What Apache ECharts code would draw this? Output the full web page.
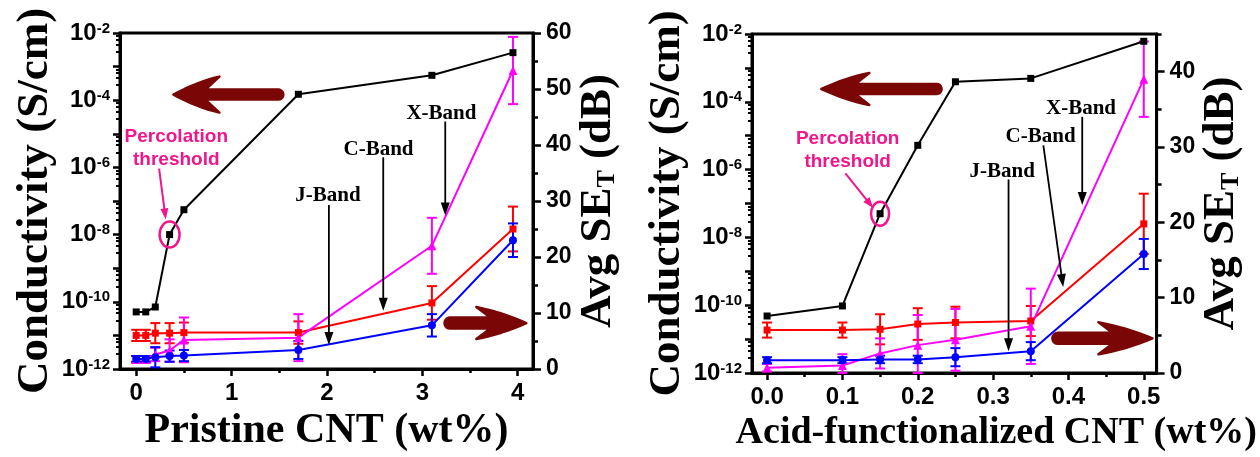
<!DOCTYPE html>
<html>
<head>
<meta charset="utf-8">
<script src="https://cdn.jsdelivr.net/npm/echarts@6/dist/echarts.min.js"></script>
<style>
  html, body { margin: 0; padding: 0; background: #fff; }
  #chart { width: 1260px; height: 457px; }
</style>
</head>
<body>
<div id="chart"></div>
<script>
// ---- Pristine CNT composites ----
const pristineWt = [0, 0.1, 0.2, 0.35, 0.5, 1.7, 3.1, 3.95];
const pristineCond = [5e-11, 5e-11, 7e-11, 1e-8, 5.5e-8, 1.5e-4, 5.5e-4, 2.6e-3];
const pristineC = [6.0, 6.0, 6.4, 6.4, 6.5, 6.5, 11.8, 25.0];
const pristineCErr = [1.0, 1.0, 1.8, 1.8, 1.8, 2.0, 3.0, 4.0];
const pristineX = [1.7, 1.7, 2.6, 3.3, 5.2, 5.6, 22.0, 53.3];
const pristineXErr = [0.6, 0.6, 1.2, 2.0, 4.0, 4.2, 5.0, 6.0];
const pristineJ = [1.8, 1.8, 2.1, 2.3, 2.4, 3.4, 7.8, 23.0];
const pristineJErr = [0.5, 0.5, 1.8, 1.0, 1.0, 1.6, 2.0, 3.0];

// ---- Acid-functionalized CNT composites ----
const acidWt = [0, 0.1, 0.15, 0.2, 0.25, 0.35, 0.5];
const acidCond = [4.8e-11, 9.5e-11, 5e-8, 5.2e-6, 3.9e-4, 4.9e-4, 6.1e-3];
const acidC = [5.7, 5.7, 5.8, 6.5, 6.7, 6.9, 19.8];
const acidCErr = [1.0, 1.0, 2.0, 2.1, 2.1, 2.0, 4.0];
const acidX = [0.7, 1.0, 2.6, 3.7, 4.4, 6.2, 39.0];
const acidXErr = [0.5, 1.5, 2.0, 4.0, 4.1, 5.0, 5.0];
const acidJ = [1.7, 1.7, 1.8, 1.8, 2.1, 2.9, 15.8];
const acidJErr = [0.4, 0.4, 0.5, 0.5, 1.2, 1.2, 2.0];

// ---- Tick values ----
const pristineTicks = [0, 1, 2, 3, 4];
const pristineMinorTicks = [0.5, 1.5, 2.5, 3.5];
const acidTicks = [0, 0.1, 0.2, 0.3, 0.4, 0.5];
const acidMinorTicks = [0.05, 0.15, 0.25, 0.35, 0.45];
const sePristineTicks = [0, 10, 20, 30, 40, 50, 60];
const sePristineMinorTicks = [5, 15, 25, 35, 45, 55];
const seAcidTicks = [0, 10, 20, 30, 40];
const seAcidMinorTicks = [5, 15, 25, 35, 45];

const SANS = '"Liberation Sans", Arial, sans-serif';
const SERIF = '"Liberation Serif", "Times New Roman", serif';
const MAROON = '#7a0606';
const PINK = '#f0168c';
const RED = '#ff0000', MAGENTA = '#ff00ff', BLUE = '#0000ff';

const chart = echarts.init(document.getElementById('chart'));

function logLabel(v) {
  const e = Math.round(Math.log10(v));
  return e % 2 === 0 ? '{b|10}{s|' + e + '}' : '';
}

const tickLabelStyle = { fontFamily: SANS, fontWeight: 'bold', fontSize: 23, color: '#000' };
const axisNameStyle = (size) => ({ fontFamily: SERIF, fontWeight: 'bold', fontSize: size, color: '#000' });

function xAxesFor(gridIndex, min, max, major, minor, fmt, name, nameSize, namePad) {
  return [
    {
      type: 'value', gridIndex, min, max, position: 'bottom',
      axisLine: { show: true, onZero: false, lineStyle: { color: '#000', width: 3 } },
      axisTick: { show: true, length: 7, lineStyle: { color: '#000', width: 2.5 }, customValues: major },
      axisLabel: Object.assign({ margin: 12, customValues: major, formatter: fmt }, tickLabelStyle, { fontSize: 24 }),
      splitLine: { show: false },
      name, nameLocation: 'middle', nameGap: 41,
      nameTextStyle: Object.assign(axisNameStyle(nameSize), { padding: namePad })
    },
    {
      type: 'value', gridIndex, min, max, position: 'bottom',
      axisLine: { show: false, onZero: false },
      axisTick: { show: true, length: 4, lineStyle: { color: '#000', width: 2.5 }, customValues: minor },
      axisLabel: { show: false },
      splitLine: { show: false }
    }
  ];
}

function yAxesFor(gridIndex, seMax, seMajor, seMinor) {
  return [
    {
      type: 'log', gridIndex, logBase: 10, min: 1e-12, max: 1e-2, interval: 1, splitNumber: 10,
      position: 'left',
      axisLine: { show: true, onZero: false, lineStyle: { color: '#000', width: 3 } },
      axisTick: { show: true, length: 7, lineStyle: { color: '#000', width: 2.5 } },
      minorTick: { show: true, splitNumber: 5, length: 4, lineStyle: { color: '#000', width: 2 } },
      axisLabel: {
        margin: 10, formatter: logLabel,
        rich: {
          b: { fontFamily: SANS, fontWeight: 'bold', fontSize: 24, color: '#000' },
          s: { fontFamily: SANS, fontWeight: 'bold', fontSize: 15, color: '#000', verticalAlign: 'top' }
        }
      },
      splitLine: { show: false }, minorSplitLine: { show: false },
      name: 'Conductivity (S/cm)', nameLocation: 'middle', nameRotate: 90, nameGap: 62,
      nameTextStyle: axisNameStyle(45)
    },
    {
      type: 'value', gridIndex, min: 0, max: seMax, position: 'right',
      axisLine: { show: true, onZero: false, lineStyle: { color: '#000', width: 3 } },
      axisTick: { show: true, length: 8, lineStyle: { color: '#000', width: 2.5 }, customValues: seMajor },
      axisLabel: Object.assign({ margin: 13, customValues: seMajor }, tickLabelStyle),
      splitLine: { show: false },
      name: 'Avg SE{t|T} (dB)', nameLocation: 'middle', nameRotate: 90, nameGap: 38,
      nameTextStyle: Object.assign(axisNameStyle(45), {
        rich: { t: { fontFamily: SERIF, fontWeight: 'bold', fontSize: 26, color: '#000', verticalAlign: 'bottom' } }
      })
    },
    {
      type: 'value', gridIndex, min: 0, max: seMax, position: 'right',
      axisLine: { show: false, onZero: false },
      axisTick: { show: true, length: 5, lineStyle: { color: '#000', width: 2.5 }, customValues: seMinor },
      axisLabel: { show: false },
      splitLine: { show: false }
    }
  ];
}

function errorBarItem(params, api) {
  const x = api.value(0), y = api.value(1), e = api.value(2);
  const hi = api.coord([x, y + e]);
  const lo = api.coord([x, Math.max(0, y - e)]);
  const cap = 5;
  const st = { stroke: api.visual('color'), lineWidth: 2 };
  return {
    type: 'group',
    children: [
      { type: 'line', shape: { x1: hi[0], y1: hi[1], x2: lo[0], y2: lo[1] }, style: st },
      { type: 'line', shape: { x1: hi[0] - cap, y1: hi[1], x2: hi[0] + cap, y2: hi[1] }, style: st },
      { type: 'line', shape: { x1: lo[0] - cap, y1: lo[1], x2: lo[0] + cap, y2: lo[1] }, style: st }
    ]
  };
}

function panelSeries(xs, cond, c, cErr, xb, xbErr, j, jErr, xAxisIndex, logIdx, seIdx) {
  const zip = (v, e) => xs.map((x, i) => [x, v[i], e[i]]);
  const pts = (v) => xs.map((x, i) => [x, v[i]]);
  const bars = (name, v, e, color) => ({
    type: 'custom', name, xAxisIndex, yAxisIndex: seIdx, data: zip(v, e),
    itemStyle: { color }, renderItem: errorBarItem, z: 2
  });
  const line = (name, v, color, symbol, size, yIdx) => ({
    type: 'line', name, xAxisIndex, yAxisIndex: yIdx, data: pts(v),
    symbol, symbolSize: size, showSymbol: true,
    itemStyle: { color }, lineStyle: { color, width: 2 }, z: 3
  });
  return [
    bars('C-Band err', c, cErr, RED),
    bars('X-Band err', xb, xbErr, MAGENTA),
    bars('J-Band err', j, jErr, BLUE),
    line('C-Band', c, RED, 'rect', 7, seIdx),
    line('X-Band', xb, MAGENTA, 'triangle', 9, seIdx),
    line('J-Band', j, BLUE, 'circle', 8, seIdx),
    line('Conductivity', cond, '#000', 'rect', 7, logIdx)
  ];
}

const option = {
  animation: false,
  backgroundColor: '#fff',
  grid: [
    { left: 120, top: 33, width: 413, height: 344, show: true, borderColor: '#000', borderWidth: 3 },
    { left: 752, top: 34, width: 418, height: 343, show: true, borderColor: '#000', borderWidth: 3 }
  ],
  xAxis: [
    ...xAxesFor(0, -0.17, 4.16, pristineTicks, pristineMinorTicks, (v) => String(Math.round(v)),
      'Pristine CNT (wt%)', 42, [0, 0, 0, 0]),
    ...xAxesFor(1, -0.02, 0.517, acidTicks, acidMinorTicks, (v) => v.toFixed(1),
      'Acid-functionalized CNT (wt%)', 38, [0, 0, 0, 84])
  ],
  yAxis: [
    ...yAxesFor(0, 60, sePristineTicks, sePristineMinorTicks),
    ...yAxesFor(1, 45, seAcidTicks, seAcidMinorTicks)
  ],
  series: [
    ...panelSeries(pristineWt, pristineCond, pristineC, pristineCErr, pristineX, pristineXErr,
      pristineJ, pristineJErr, 0, 0, 1),
    ...panelSeries(acidWt, acidCond, acidC, acidCErr, acidX, acidXErr,
      acidJ, acidJErr, 2, 3, 4)
  ]
};
chart.setOption(option);

// ---- Annotations (placed in data units: wt% and dB on the right axis) ----
const annotations = [
  {
    seSeries: 3, condSeries: 6, ringAt: [pristineWt[3], pristineCond[3]],
    leftArrow: { tip: [0.39, 49.0], tail: [1.49, 49.0], H: 46, W: 18, S: 5 },
    rightArrow: { tip: [4.09, 8.2], tail: [3.29, 8.2], H: 50, W: 16, S: 5.5 },
    percText: [0.42, 39.4], percArrow: [[0.24, 35.8], [0.31, 26.7]], ring: [10, 13],
    bands: [
      { text: 'J-Band', at: [2.01, 30.9], from: [2.02, 29.3], to: [2.02, 4.3] },
      { text: 'C-Band', at: [2.54, 39.1], from: [2.59, 37.8], to: [2.59, 10.4] },
      { text: 'X-Band', at: [3.2, 45.6], from: [3.24, 44.2], to: [3.24, 27.4] }
    ]
  },
  {
    seSeries: 10, condSeries: 13, ringAt: [acidWt[2], acidCond[2]],
    leftArrow: { tip: [0.072, 37.7], tail: [0.225, 37.7], H: 48, W: 16, S: 5 },
    rightArrow: { tip: [0.5115, 4.6], tail: [0.386, 4.6], H: 54, W: 16, S: 5.5 },
    percText: [0.107, 29.6], percArrow: [[0.104, 26.5], [0.141, 21.9]], ring: [9, 12],
    bands: [
      { text: 'J-Band', at: [0.312, 26.8], from: [0.3205, 25.7], to: [0.3205, 2.9] },
      { text: 'C-Band', at: [0.363, 31.4], from: [0.3667, 30.2], to: [0.393, 11.4] },
      { text: 'X-Band', at: [0.4167, 35.1], from: [0.4183, 34.0], to: [0.4183, 22.3] }
    ]
  }
];

// quadratic Bezier sampled into polygon vertices
function quad(p0, c, p1, n) {
  const out = [];
  for (let i = 1; i <= n; i++) {
    const t = i / n, u = 1 - t;
    out.push([u * u * p0[0] + 2 * u * t * c[0] + t * t * p1[0], u * u * p0[1] + 2 * u * t * c[1] + t * t * p1[1]]);
  }
  return out;
}

// thick swept-back arrow with a rounded tail
function fatArrow(tip, tail, H, W, S) {
  const d = Math.sign(tail[0] - tip[0]);
  const y = tip[1], tx = tip[0], ex = tail[0];
  const bx = tx + d * H, nx = tx + d * (H - 14), qx = tx + d * H * 0.5;
  const pts = [[tx, y]];
  pts.push(...quad([tx, y], [qx, y - W * 0.7], [bx, y - W], 8));
  pts.push([nx, y - S], [ex, y - S]);
  for (let i = 1; i < 10; i++) {
    const a = -Math.PI / 2 + Math.PI * i / 10;
    pts.push([ex + d * S * Math.cos(a), y + S * Math.sin(a)]);
  }
  pts.push([ex, y + S], [nx, y + S], [bx, y + W]);
  pts.push(...quad([bx, y + W], [qx, y + W * 0.7], [tx, y], 8));
  return { type: 'polygon', shape: { points: pts },
    style: { fill: MAROON, stroke: MAROON, lineWidth: 2.5, lineJoin: 'round' }, z: 10 };
}

function thinArrow(p0, p1, color, width, headLen, headHalf) {
  const dx = p1[0] - p0[0], dy = p1[1] - p0[1];
  const len = Math.hypot(dx, dy), ux = dx / len, uy = dy / len;
  const bx = p1[0] - ux * headLen, by = p1[1] - uy * headLen;
  return [
    { type: 'line', shape: { x1: p0[0], y1: p0[1], x2: bx + ux * 2, y2: by + uy * 2 },
      style: { stroke: color, lineWidth: width }, z: 10 },
    { type: 'polygon', shape: { points: [p1, [bx - uy * headHalf, by + ux * headHalf], [bx + uy * headHalf, by - ux * headHalf]] },
      style: { fill: color }, z: 10 }
  ];
}

const graphics = [];
annotations.forEach((a) => {
  const toPx = (p) => chart.convertToPixel({ seriesIndex: a.seSeries }, p);
  const la = a.leftArrow, ra = a.rightArrow;
  graphics.push(fatArrow(toPx(la.tip), toPx(la.tail), la.H, la.W, la.S));
  graphics.push(fatArrow(toPx(ra.tip), toPx(ra.tail), ra.H, ra.W, ra.S));

  const pt = toPx(a.percText);
  graphics.push({
    type: 'text', z: 10, x: pt[0], y: pt[1],
    style: { text: 'Percolation\nthreshold', align: 'center', verticalAlign: 'middle',
      fill: PINK, fontFamily: SANS, fontWeight: 'bold', fontSize: 19, lineHeight: 23 }
  });
  graphics.push(...thinArrow(toPx(a.percArrow[0]), toPx(a.percArrow[1]), PINK, 2, 11, 4));

  const ring = chart.convertToPixel({ seriesIndex: a.condSeries }, a.ringAt);
  graphics.push({ type: 'ellipse', z: 10, shape: { cx: ring[0], cy: ring[1], rx: a.ring[0], ry: a.ring[1] },
    style: { fill: 'none', stroke: PINK, lineWidth: 2.5 } });

  a.bands.forEach((b) => {
    const p = toPx(b.at);
    graphics.push({
      type: 'text', z: 10, x: p[0], y: p[1],
      style: { text: b.text, align: 'center', verticalAlign: 'middle',
        fill: '#000', fontFamily: SERIF, fontWeight: 'bold', fontSize: 21 }
    });
    graphics.push(...thinArrow(toPx(b.from), toPx(b.to), '#000', 1.8, 13, 4.5));
  });
});
chart.setOption({ graphic: graphics });
</script>
</body>
</html>
